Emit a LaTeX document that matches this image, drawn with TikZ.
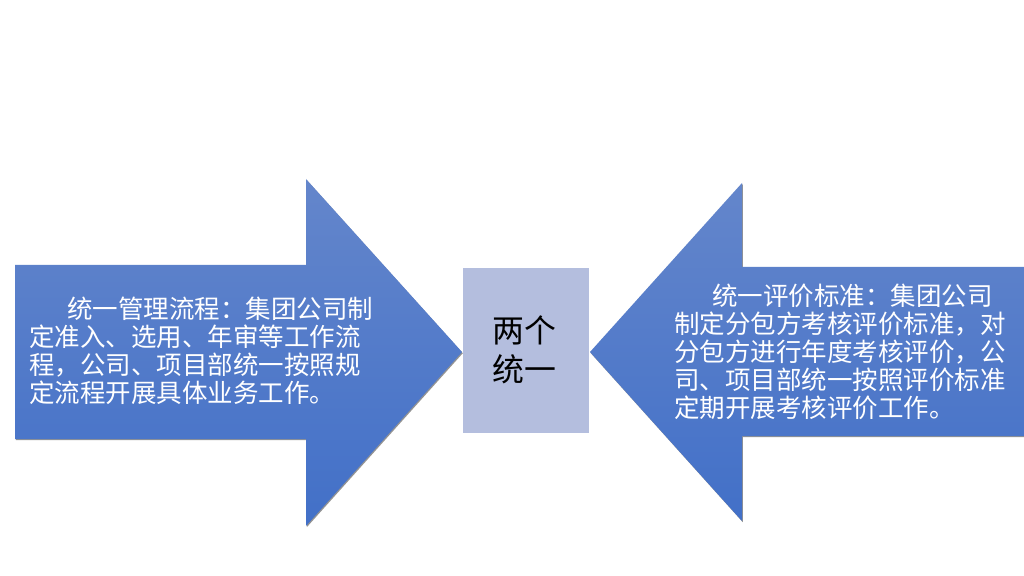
\documentclass[tikz,border=0pt]{standalone}
\usepackage{fontspec}
\newfontfamily\cjk{Noto Sans CJK SC}
\usetikzlibrary{shadows}
\definecolor{arrtop}{RGB}{100,134,203}
\definecolor{arrbot}{RGB}{66,112,200}
\definecolor{boxfill}{RGB}{180,190,222}
\tikzset{
  blockarrow/.style={top color=arrtop, bottom color=arrbot, draw=none,
    drop shadow={shadow xshift=0.8bp, shadow yshift=-1.2bp, opacity=0.6, fill=black!70}},
  arrowtext/.style={anchor=north west, inner sep=0pt, align=left, text=white,
    font=\cjk\fontsize{25.6}{28}\selectfont},
  centerbox/.style={fill=boxfill, draw=none},
  centertext/.style={anchor=north west, inner sep=0pt, align=left, text=black,
    font=\cjk\fontsize{32}{40}\selectfont}
}
\begin{document}
\begin{tikzpicture}[x=1bp,y=-1bp]
\useasboundingbox[fill=white] (0,0) rectangle (1024,576);
% left arrow
\path[blockarrow] (15,265) -- (306,265) -- (306,179) -- (462,352) -- (306,526) -- (306,439) -- (15,439) -- cycle;
% right arrow
\path[blockarrow] (1024,267) -- (742,267) -- (742,183) -- (590,352) -- (742,521) -- (742,436) -- (1024,436) -- cycle;
% center box
\node[centerbox, minimum width=126bp, minimum height=165bp, inner sep=0pt, anchor=north west] (mid) at (463,268) {};
\node[centertext] (midtext) at (492,315) {两个\\统一};
\node[arrowtext] (ltext) at (29,297) {\hspace*{38bp}统一管理流程：集团公司制\\定准入、选用、年审等工作流\\程，公司、项目部统一按照规\\定流程开展具体业务工作。};
\node[arrowtext] (rtext) at (674,284) {\hspace*{38bp}统一评价标准：集团公司\\制定分包方考核评价标准，对\\分包方进行年度考核评价，公\\司、项目部统一按照评价标准\\定期开展考核评价工作。};
\end{tikzpicture}
\end{document}
